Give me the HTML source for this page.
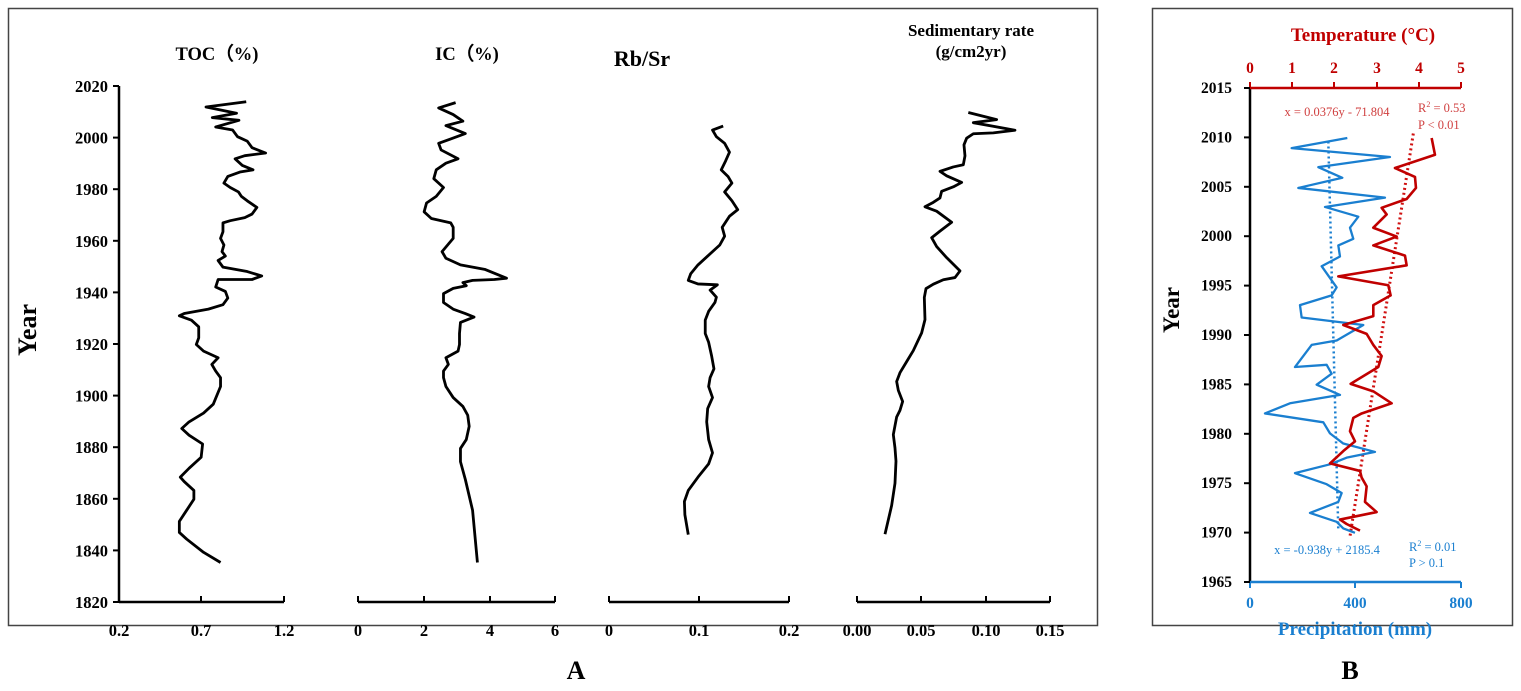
<!DOCTYPE html>
<html><head><meta charset="utf-8"><style>
html,body{margin:0;padding:0;background:#fff}
svg{display:block}
text{font-family:"Liberation Serif",serif;font-weight:bold}
</style></head><body>
<svg width="1521" height="691" viewBox="0 0 1521 691" xmlns="http://www.w3.org/2000/svg">
<rect x="8.5" y="8.5" width="1089" height="617" fill="none" stroke="#444" stroke-width="1.5"/>
<rect x="1152.5" y="8.5" width="360" height="617" fill="none" stroke="#444" stroke-width="1.5"/>

<g stroke="#000" stroke-width="2.5" fill="none">
<line x1="119" y1="86" x2="119" y2="602"/>
<line x1="119" y1="602" x2="284" y2="602"/>
<line x1="358" y1="602" x2="555" y2="602"/>
<line x1="609" y1="602" x2="789" y2="602"/>
<line x1="857" y1="602" x2="1050" y2="602"/>
</g>
<g stroke="#000" stroke-width="2">
<line x1="113" y1="86" x2="119" y2="86"/><line x1="113" y1="137.6" x2="119" y2="137.6"/><line x1="113" y1="189.2" x2="119" y2="189.2"/><line x1="113" y1="240.8" x2="119" y2="240.8"/><line x1="113" y1="292.4" x2="119" y2="292.4"/><line x1="113" y1="344" x2="119" y2="344"/><line x1="113" y1="395.6" x2="119" y2="395.6"/><line x1="113" y1="447.2" x2="119" y2="447.2"/><line x1="113" y1="498.8" x2="119" y2="498.8"/><line x1="113" y1="550.4" x2="119" y2="550.4"/><line x1="113" y1="602" x2="119" y2="602"/>
<line x1="201" y1="596" x2="201" y2="602"/><line x1="284" y1="596" x2="284" y2="602"/>
<line x1="358" y1="596" x2="358" y2="602"/><line x1="424" y1="596" x2="424" y2="602"/><line x1="490" y1="596" x2="490" y2="602"/><line x1="555" y1="596" x2="555" y2="602"/>
<line x1="609" y1="596" x2="609" y2="602"/><line x1="699" y1="596" x2="699" y2="602"/><line x1="789" y1="596" x2="789" y2="602"/>
<line x1="857" y1="596" x2="857" y2="602"/><line x1="921" y1="596" x2="921" y2="602"/><line x1="986" y1="596" x2="986" y2="602"/><line x1="1050" y1="596" x2="1050" y2="602"/>
</g>
<g font-size="16.5" text-anchor="end">
<text x="108" y="92">2020</text><text x="108" y="143.6">2000</text><text x="108" y="195.2">1980</text><text x="108" y="246.8">1960</text><text x="108" y="298.4">1940</text><text x="108" y="350">1920</text><text x="108" y="401.6">1900</text><text x="108" y="453.2">1880</text><text x="108" y="504.8">1860</text><text x="108" y="556.4">1840</text><text x="108" y="608">1820</text>
</g>
<g font-size="16.5" text-anchor="middle">
<text x="119" y="636">0.2</text><text x="201" y="636">0.7</text><text x="284" y="636">1.2</text>
<text x="358" y="636">0</text><text x="424" y="636">2</text><text x="490" y="636">4</text><text x="555" y="636">6</text>
<text x="609" y="636">0</text><text x="699" y="636">0.1</text><text x="789" y="636">0.2</text>
<text x="857" y="636">0.00</text><text x="921" y="636">0.05</text><text x="986" y="636">0.10</text><text x="1050" y="636">0.15</text>
</g>
<text x="217" y="60" font-size="18.5" text-anchor="middle">TOC（%)</text>
<text x="467" y="60" font-size="18.5" text-anchor="middle">IC（%)</text>
<text x="642" y="66" font-size="22" text-anchor="middle">Rb/Sr</text>
<text x="971" y="36" font-size="17" text-anchor="middle">Sedimentary rate</text>
<text x="971" y="57" font-size="17" text-anchor="middle">(g/cm2yr)</text>
<text transform="translate(36,330) rotate(-90)" font-size="26" text-anchor="middle">Year</text>
<text x="576" y="679" font-size="26" text-anchor="middle">A</text>

<g transform="matrix(0.4847,0,0,0.4422,0,1.8)" fill="none" stroke="#000" stroke-width="2.8" stroke-linejoin="round">
<polyline vector-effect="non-scaling-stroke" points="508,226 425,238 488,252 438,262 493,268 445,283 480,290 490,305 510,315 520,330 548,342 505,348 485,355 500,370 522,380 495,385 470,395 462,410 475,420 492,430 498,440 510,450 530,465 520,480 505,488 475,495 460,500 460,520 455,535 462,550 458,565 465,575 450,585 460,600 510,610 540,620 520,628 450,628 445,645 465,655 470,670 460,685 430,695 380,705 370,710 395,720 410,735 410,760 405,775 420,790 450,805 437,820 445,835 455,850 455,870 440,910 420,930 390,950 375,965 390,980 418,1000 415,1030 390,1055 372,1075 380,1085 400,1105 400,1125 385,1150 370,1175 370,1200 385,1215 420,1245 455,1268"/>
<polyline vector-effect="non-scaling-stroke" points="940,228 905,240 935,255 955,270 920,280 960,298 930,310 905,320 910,335 945,355 920,365 900,380 895,400 915,420 900,440 880,455 875,475 890,490 930,500 935,510 935,535 925,548 912,565 920,580 950,595 1000,605 1045,625 1020,628 975,630 955,635 962,642 935,648 915,660 915,680 935,695 960,705 978,713 950,725 948,750 948,775 945,790 920,805 925,820 915,835 915,850 920,870 935,895 955,915 965,935 968,960 962,990 950,1010 950,1040 960,1080 975,1150 985,1268"/>
<polyline vector-effect="non-scaling-stroke" points="1492,281 1470,290 1478,305 1495,320 1505,340 1497,360 1488,380 1502,395 1510,410 1495,430 1510,450 1522,470 1505,485 1490,510 1495,530 1485,550 1460,575 1440,595 1425,615 1420,630 1440,638 1480,640 1465,652 1478,668 1475,680 1462,700 1455,720 1455,750 1462,770 1468,800 1473,830 1465,850 1462,870 1470,895 1460,920 1458,950 1462,990 1470,1020 1462,1045 1440,1075 1420,1105 1412,1130 1413,1160 1420,1205"/>
</g>
<g transform="matrix(0.3333,0,0,0.4425,760,1)" fill="none" stroke="#000" stroke-width="2.8" stroke-linejoin="round">
<polyline vector-effect="non-scaling-stroke" points="625,252 710,268 640,275 765,292 700,298 640,300 620,310 612,325 615,350 610,370 580,375 540,385 560,395 605,410 580,420 545,430 540,445 520,455 495,465 530,475 575,500 540,520 515,535 530,555 560,580 600,610 585,625 550,630 520,640 498,650 493,670 495,720 485,750 460,790 440,815 420,840 410,860 415,880 428,905 420,925 410,940 405,960 400,980 405,1010 408,1040 405,1090 395,1140 375,1205"/>
</g>

<g stroke-width="2.5">
<line x1="1250" y1="88" x2="1250" y2="582" stroke="#000"/>
<line x1="1250" y1="88" x2="1461" y2="88" stroke="#c00000"/>
<line x1="1250" y1="582" x2="1461" y2="582" stroke="#1a7fd0"/>
</g>
<g stroke="#c00000" stroke-width="2"><line x1="1250" y1="82" x2="1250" y2="88"/><line x1="1292" y1="82" x2="1292" y2="88"/><line x1="1334" y1="82" x2="1334" y2="88"/><line x1="1377" y1="82" x2="1377" y2="88"/><line x1="1419" y1="82" x2="1419" y2="88"/><line x1="1461" y1="82" x2="1461" y2="88"/></g>
<g stroke="#1a7fd0" stroke-width="2"><line x1="1250" y1="582" x2="1250" y2="588"/><line x1="1355" y1="582" x2="1355" y2="588"/><line x1="1461" y1="582" x2="1461" y2="588"/></g>
<g stroke="#000" stroke-width="2"><line x1="1244" y1="88" x2="1250" y2="88"/><line x1="1244" y1="137.4" x2="1250" y2="137.4"/><line x1="1244" y1="186.8" x2="1250" y2="186.8"/><line x1="1244" y1="236.2" x2="1250" y2="236.2"/><line x1="1244" y1="285.6" x2="1250" y2="285.6"/><line x1="1244" y1="335" x2="1250" y2="335"/><line x1="1244" y1="384.4" x2="1250" y2="384.4"/><line x1="1244" y1="433.8" x2="1250" y2="433.8"/><line x1="1244" y1="483.2" x2="1250" y2="483.2"/><line x1="1244" y1="532.6" x2="1250" y2="532.6"/><line x1="1244" y1="582" x2="1250" y2="582"/></g>
<g font-size="15.5" text-anchor="end">
<text x="1232" y="93">2015</text><text x="1232" y="142.4">2010</text><text x="1232" y="191.8">2005</text><text x="1232" y="241.2">2000</text><text x="1232" y="290.6">1995</text><text x="1232" y="340">1990</text><text x="1232" y="389.4">1985</text><text x="1232" y="438.8">1980</text><text x="1232" y="488.2">1975</text><text x="1232" y="537.6">1970</text><text x="1232" y="587">1965</text>
</g>
<g font-size="15.5" text-anchor="middle" fill="#c00000">
<text x="1250" y="73">0</text><text x="1292" y="73">1</text><text x="1334" y="73">2</text><text x="1377" y="73">3</text><text x="1419" y="73">4</text><text x="1461" y="73">5</text>
</g>
<g font-size="15.5" text-anchor="middle" fill="#1a7fd0">
<text x="1250" y="608">0</text><text x="1355" y="608">400</text><text x="1461" y="608">800</text>
</g>
<text x="1363" y="41" font-size="19" text-anchor="middle" fill="#c00000">Temperature (°C)</text>
<text x="1355" y="635" font-size="19" text-anchor="middle" fill="#1a7fd0">Precipitation (mm)</text>
<text transform="translate(1179,310) rotate(-90)" font-size="23" text-anchor="middle">Year</text>
<text x="1350" y="679" font-size="26" text-anchor="middle">B</text>
<g font-size="12.5" fill="#d04040">
<text x="1337" y="116" text-anchor="middle" style="font-weight:normal">x = 0.0376y - 71.804</text>
<text x="1418" y="112" style="font-weight:normal">R<tspan font-size="8" dy="-5">2</tspan><tspan dy="5"> = 0.53</tspan></text>
<text x="1418" y="129" style="font-weight:normal">P &lt; 0.01</text>
</g>
<g font-size="12.5" fill="#1a7fd0">
<text x="1327" y="554" text-anchor="middle" style="font-weight:normal">x = -0.938y + 2185.4</text>
<text x="1409" y="551" style="font-weight:normal">R<tspan font-size="8" dy="-5">2</tspan><tspan dy="5"> = 0.01</tspan></text>
<text x="1409" y="567" style="font-weight:normal">P &gt; 0.1</text>
</g>
<g transform="matrix(0.3333,0,0,0.4422,1140,0)" fill="none" stroke-linejoin="round">
<line x1="565" y1="320" x2="595" y2="1200" stroke="#1a7fd0" stroke-width="2.5" stroke-dasharray="2,3" vector-effect="non-scaling-stroke"/>
<line x1="820" y1="302" x2="630" y2="1213" stroke="#d01010" stroke-width="3" stroke-dasharray="2,3" vector-effect="non-scaling-stroke"/>
<polyline vector-effect="non-scaling-stroke" stroke="#1a7fd0" stroke-width="2.3" points="622,312 455,335 750,355 535,378 607,402 475,425 735,447 555,468 655,490 630,515 640,540 595,555 600,580 545,602 590,650 575,668 480,690 485,718 670,735 590,770 515,780 465,830 560,825 575,845 530,870 600,893 450,912 375,935 550,955 570,980 610,1003 705,1022 620,1035 570,1050 465,1070 560,1095 605,1115 595,1135 510,1160 590,1180 610,1195 645,1205"/>
<polyline vector-effect="non-scaling-stroke" stroke="#c00000" stroke-width="2.6" points="875,312 885,350 765,380 825,400 828,425 800,450 725,470 740,485 700,515 770,535 700,555 795,578 800,600 595,625 745,645 752,668 700,690 700,715 610,735 680,755 700,780 725,805 715,830 632,868 700,885 755,912 665,935 640,945 630,975 645,998 610,1020 570,1048 660,1065 665,1080 680,1100 675,1135 710,1158 600,1175 620,1185 660,1200"/>
</g>
</svg>
</body></html>
